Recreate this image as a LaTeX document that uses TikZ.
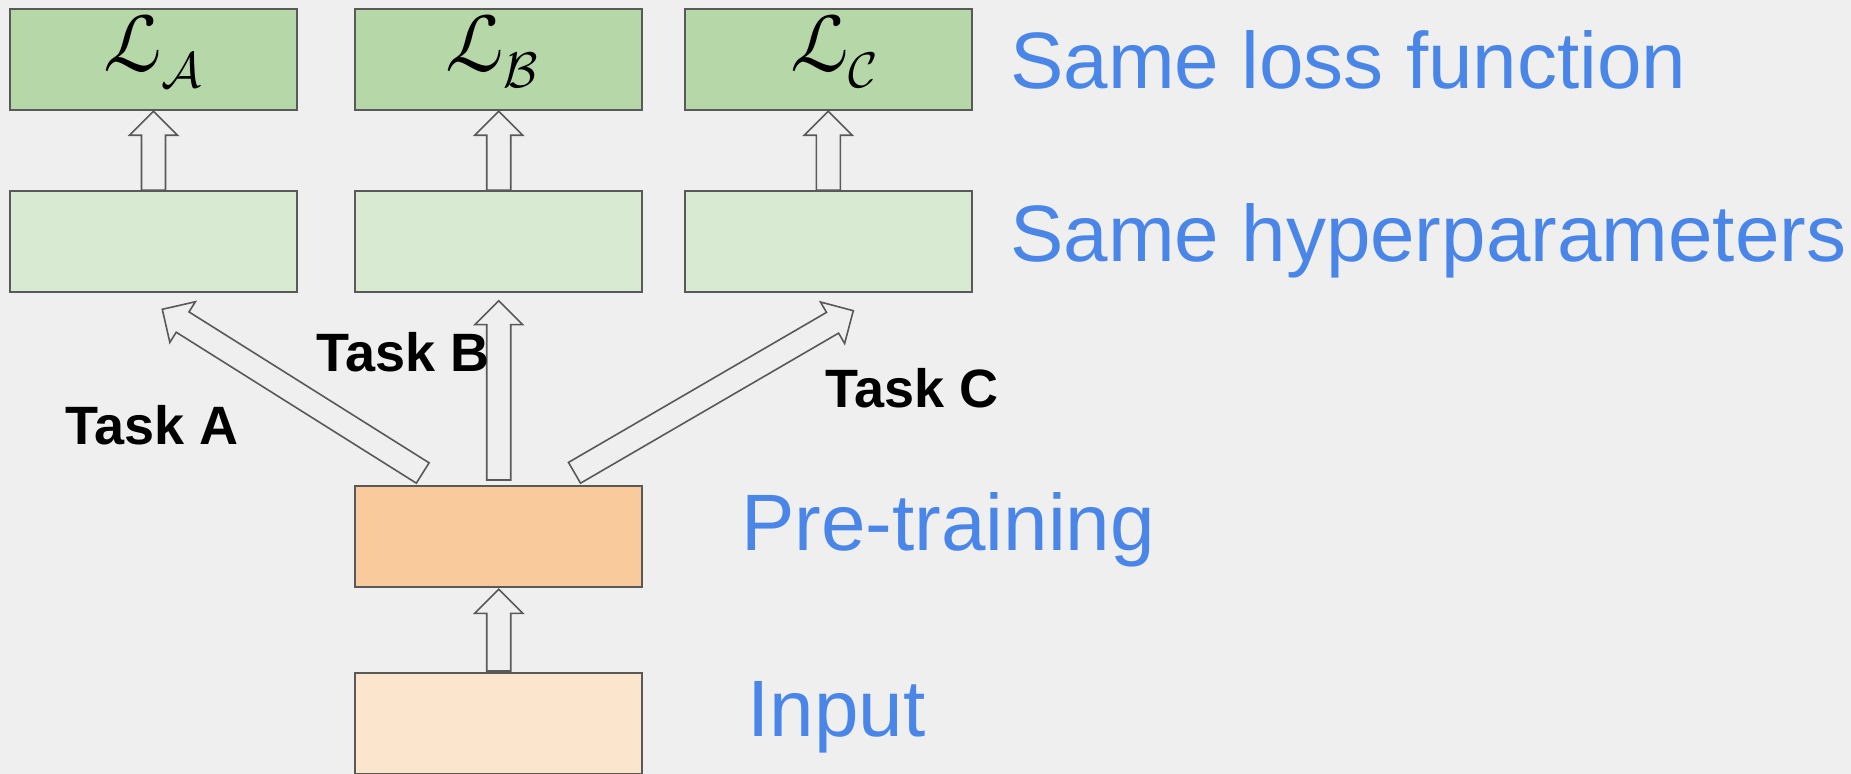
\documentclass[tikz,border=0pt]{standalone}
\usepackage{fontspec}
\usepackage{graphicx}
\setmainfont{Liberation Sans}
\newfontfamily\lossfont[FakeSlant=0.22]{DejaVu Sans}
\usetikzlibrary{calc}

\definecolor{bg}{HTML}{EFEFEF}
\definecolor{edge}{HTML}{595959}
\definecolor{lossfill}{HTML}{B6D7A8}
\definecolor{hypfill}{HTML}{D9EAD3}
\definecolor{prefill}{HTML}{F9CB9C}
\definecolor{infill}{HTML}{FCE5CD}
\definecolor{labelblue}{HTML}{4A86E8}

\tikzset{
  box/.style={draw=edge, line width=1pt, minimum width=143.5pt, minimum height=50.5pt,
              inner sep=0pt, anchor=center},
  lossbox/.style={box, fill=lossfill},
  hypbox/.style={box, fill=hypfill},
  prebox/.style={box, fill=prefill},
  inbox/.style={box, fill=infill},
  losssym/.style={anchor=base west, inner sep=0pt},
  sidelabel/.style={anchor=base west, inner sep=0pt, text=labelblue,
                    font=\fontsize{40}{48}\selectfont},
  tasklabel/.style={anchor=base west, inner sep=0pt, text=black,
                    font=\bfseries\fontsize{27}{32}\selectfont},
  blockarr/.style={draw=edge, fill=bg, line width=0.8pt, line join=miter},
}

% hollow block arrow from #1 (tail) to #2 (tip)
\newcommand\blockarrow[2]{%
  \path ($(#2)!12pt!(#1)$) coordinate (ba-base);
  \draw[blockarr]
    ($(#1)!6pt!90:(#2)$) -- ($(ba-base)!6pt!90:(#2)$) -- ($(ba-base)!12pt!90:(#2)$)
    -- (#2)
    -- ($(ba-base)!12pt!-90:(#2)$) -- ($(ba-base)!6pt!-90:(#2)$) -- ($(#1)!6pt!-90:(#2)$)
    -- cycle;
}

% script loss symbol with calligraphic task subscript
\newcommand\lossof[1]{{\fontsize{38}{38}\lossfont ℒ}\kern1.5pt\raisebox{-8pt}{\scalebox{2.5}{$\mathcal{#1}$}}}

\begin{document}
\begin{tikzpicture}[x=0.5pt, y=-0.5pt]
  \useasboundingbox (0,0) rectangle (1851,774);
  \fill[bg] (0,0) rectangle (1851,774);

  % loss boxes
  \node[lossbox] (lossA) at (153.5,59.8) {};
  \node[lossbox] (lossB) at (498.7,59.8) {};
  \node[lossbox] (lossC) at (828.3,59.8) {};
  \node[losssym] (symA) at (103,72) {\lossof{A}};
  \node[losssym] (symB) at (445,72) {\lossof{B}};
  \node[losssym] (symC) at (790,72) {\lossof{C}};

  % task-specific heads
  \node[hypbox] (hypA) at (153.5,241.7) {};
  \node[hypbox] (hypB) at (498.7,241.7) {};
  \node[hypbox] (hypC) at (828.3,241.7) {};

  % shared trunk
  \node[prebox] (pre) at (498.7,536.2) {};
  \node[inbox] (inp) at (498.7,723.8) {};

  % arrow end points
  \coordinate (tailA) at (422.7,473);
  \coordinate (tipA) at (162.3,309.3);
  \coordinate (tailB) at (498.7,480);
  \coordinate (tipB) at (498.7,300.7);
  \coordinate (tailC) at (574.5,472.8);
  \coordinate (tipC) at (853.3,310.7);
  \coordinate (tailIn) at (498.7,671);
  \coordinate (tipIn) at (498.7,589.3);

  \blockarrow{hypA.north}{lossA.south}
  \blockarrow{hypB.north}{lossB.south}
  \blockarrow{hypC.north}{lossC.south}
  \blockarrow{tailA}{tipA}
  \blockarrow{tailB}{tipB}
  \blockarrow{tailC}{tipC}
  \blockarrow{tailIn}{tipIn}

  % labels
  \node[sidelabel] (lblLoss) at (1010,88.3) {Same loss function};
  \node[sidelabel] (lblHyp) at (1010,261.7) {Same hyperparameters};
  \node[sidelabel] (lblPre) at (741,551) {Pre-training};
  \node[sidelabel] (lblIn) at (747,736) {Input};

  \node[tasklabel] (taskA) at (65.5,445) {Task A};
  \node[tasklabel] (taskB) at (316.5,371.7) {Task B};
  \node[tasklabel] (taskC) at (825,407.7) {Task C};
\end{tikzpicture}
\end{document}
